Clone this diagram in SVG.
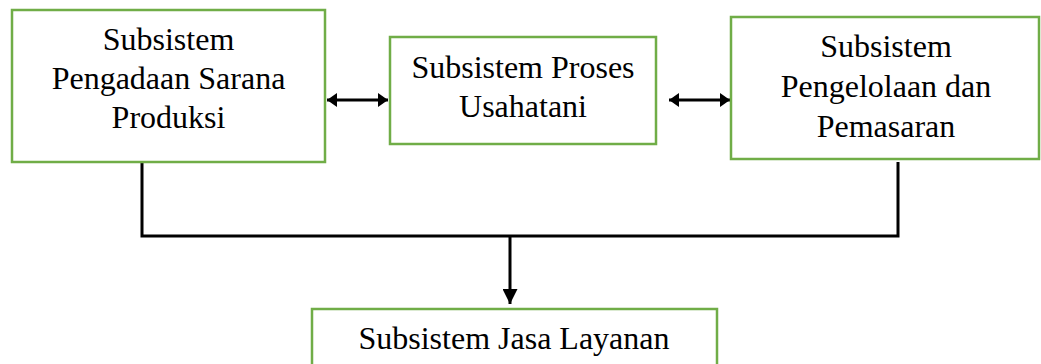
<svg xmlns="http://www.w3.org/2000/svg" width="1041" height="364" viewBox="0 0 1041 364">
  <style>
    .box { fill: #ffffff; stroke: #70AD47; stroke-width: 2.5; }
    .lbl { font-family: "Liberation Serif", "Times New Roman", serif; font-size: 32px; fill: #000000; text-anchor: middle; }
    .conn { fill: none; stroke: #000000; stroke-width: 3; }
  </style>
  <defs>
    <marker id="ah" markerUnits="userSpaceOnUse" markerWidth="10" markerHeight="14" viewBox="0 0 10 14" refX="10" refY="7" orient="auto-start-reverse">
      <path d="M0,0 L10,7 L0,14 Z" fill="#000000"/>
    </marker>
    <marker id="ahd" markerUnits="userSpaceOnUse" markerWidth="15" markerHeight="15" viewBox="0 0 15 15" refX="15" refY="7.5" orient="auto">
      <path d="M0,0 L15,7.5 L0,15 Z" fill="#000000"/>
    </marker>
  </defs>
  <rect width="1041" height="364" fill="#ffffff"/>

  <g id="connectors">
    <line class="conn" x1="327" y1="100" x2="388" y2="100" marker-start="url(#ah)" marker-end="url(#ah)"/>
    <line class="conn" x1="669" y1="100" x2="730" y2="100" marker-start="url(#ah)" marker-end="url(#ah)"/>
    <polyline class="conn" points="142,163 142,236 898,236 898,162"/>
    <line class="conn" x1="510" y1="236" x2="510" y2="304" marker-end="url(#ahd)"/>
  </g>

  <g id="node-pengadaan">
    <rect class="box" x="12" y="10" width="313" height="152"/>
    <text class="lbl" x="168.5" y="50">Subsistem</text>
    <text class="lbl" x="168.5" y="89">Pengadaan Sarana</text>
    <text class="lbl" x="168.5" y="128">Produksi</text>
  </g>

  <g id="node-proses">
    <rect class="box" x="390" y="37" width="266" height="107"/>
    <text class="lbl" x="523" y="78">Subsistem Proses</text>
    <text class="lbl" x="523" y="117">Usahatani</text>
  </g>

  <g id="node-pemasaran">
    <rect class="box" x="731" y="17" width="308" height="142"/>
    <text class="lbl" x="886" y="57">Subsistem</text>
    <text class="lbl" x="886" y="97">Pengelolaan dan</text>
    <text class="lbl" x="886" y="137">Pemasaran</text>
  </g>

  <g id="node-jasa">
    <rect class="box" x="312" y="309" width="405" height="80"/>
    <text class="lbl" x="514" y="349">Subsistem Jasa Layanan</text>
  </g>
</svg>
